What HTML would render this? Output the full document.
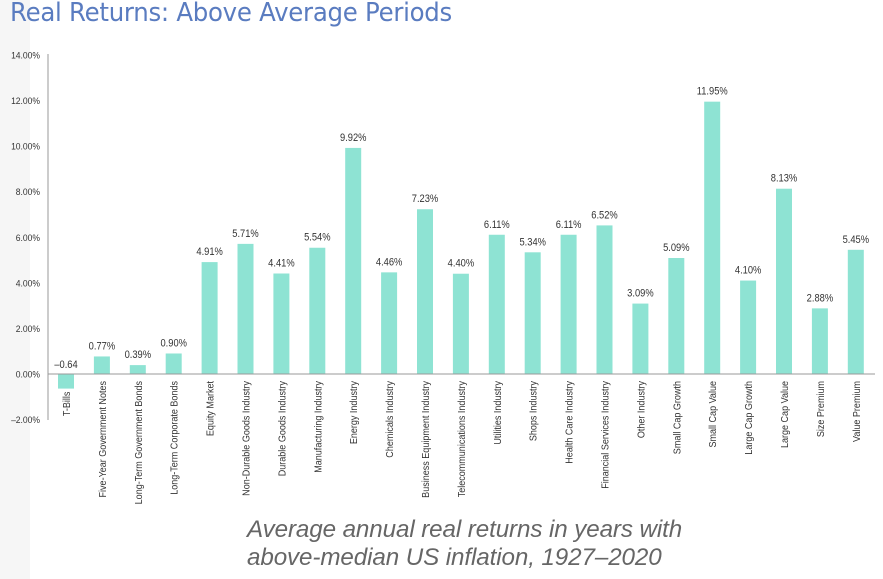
<!DOCTYPE html>
<html><head><meta charset="utf-8"><style>
body{margin:0;background:#fff;width:883px;height:579px;overflow:hidden;font-family:"Liberation Sans",sans-serif}
#strip{position:absolute;left:0;top:0;width:30px;height:579px;background:#f6f6f6}
h1{position:absolute;left:10px;top:-2px;margin:0;font-size:26px;color:#5a7cc0;font-family:"DejaVu Sans","Liberation Sans",sans-serif;letter-spacing:-0.3px;font-weight:normal;transform:scaleX(0.94);transform-origin:left}
.sub{position:absolute;left:247px;top:516px;font-style:italic;font-size:24.2px;color:#666;line-height:28px;letter-spacing:-0.1px}
svg{position:absolute;left:0;top:0}
</style></head><body>
<div id="strip"></div>
<h1>Real Returns: Above Average Periods</h1>
<svg id="chart" width="883" height="579"></svg>
<div class="sub">Average annual real returns in years with<br>above-median US inflation, 1927–2020</div>
<script>
const categories=["T-Bills","Five-Year Government Notes","Long-Term Government Bonds","Long-Term Corporate Bonds","Equity Market","Non-Durable Goods Industry","Durable Goods Industry","Manufacturing Industry","Energy Industry","Chemicals Industry","Business Equipment Industry","Telecommunications Industry","Utilities Industry","Shops Industry","Health Care Industry","Financial Services Industry","Other Industry","Small Cap Growth","Small Cap Value","Large Cap Growth","Large Cap Value","Size Premium","Value Premium"];
const values=[-0.64,0.77,0.39,0.90,4.91,5.71,4.41,5.54,9.92,4.46,7.23,4.40,6.11,5.34,6.11,6.52,3.09,5.09,11.95,4.10,8.13,2.88,5.45];
const valueLabels=["–0.64","0.77%","0.39%","0.90%","4.91%","5.71%","4.41%","5.54%","9.92%","4.46%","7.23%","4.40%","6.11%","5.34%","6.11%","6.52%","3.09%","5.09%","11.95%","4.10%","8.13%","2.88%","5.45%"];
const yTicks=[-2,0,2,4,6,8,10,12,14];
const yTickLabels=["–2.00%","0.00%","2.00%","4.00%","6.00%","8.00%","10.00%","12.00%","14.00%"];
const svg=document.getElementById('chart');const NS='http://www.w3.org/2000/svg';
const y=v=>374-v*22.79;
const x=i=>66+i*35.9;
function mk(t,a){const e=document.createElementNS(NS,t);for(const k in a)e.setAttribute(k,a[k]);svg.appendChild(e);return e;}
const font='"Liberation Sans Narrow","Liberation Sans",sans-serif';
yTicks.forEach((t,i)=>{const e=mk('text',{x:40,y:y(t)+3.5,'text-anchor':'end','font-size':9.5,fill:'#333','font-family':font,transform:`translate(40,0) scale(0.9,1) translate(-40,0)`});e.textContent=yTickLabels[i];

});
const ax=mk('line',{x1:48,y1:54,x2:48,y2:420,stroke:'#999','stroke-width':1});


categories.forEach((c,i)=>{const v=values[i];const cx=x(i);
const b=mk('rect',{x:cx-8,y:Math.min(y(v),y(0)),width:16,height:Math.abs(y(v)-y(0)),fill:'#8ee3d3'});


const ty=v<0?y(0)-6:y(v)-7;
const t=mk('text',{x:0,y:0,'text-anchor':'middle','font-size':11,fill:'#333','font-family':font,transform:`translate(${cx},${ty}) scale(0.85,1)`});t.textContent=valueLabels[i];


const ly=Math.max(381,(v<0?y(v):0)+3);
const l=mk('text',{x:0,y:0,'text-anchor':'end','font-size':10.5,fill:'#333','font-family':font,transform:`translate(${cx+4},${ly}) rotate(-90) scale(0.86,1)`});l.textContent=c;

});
const bl=mk('line',{x1:48,y1:y(0),x2:875,y2:y(0),stroke:'#999','stroke-width':1});


</script>
</body></html>
